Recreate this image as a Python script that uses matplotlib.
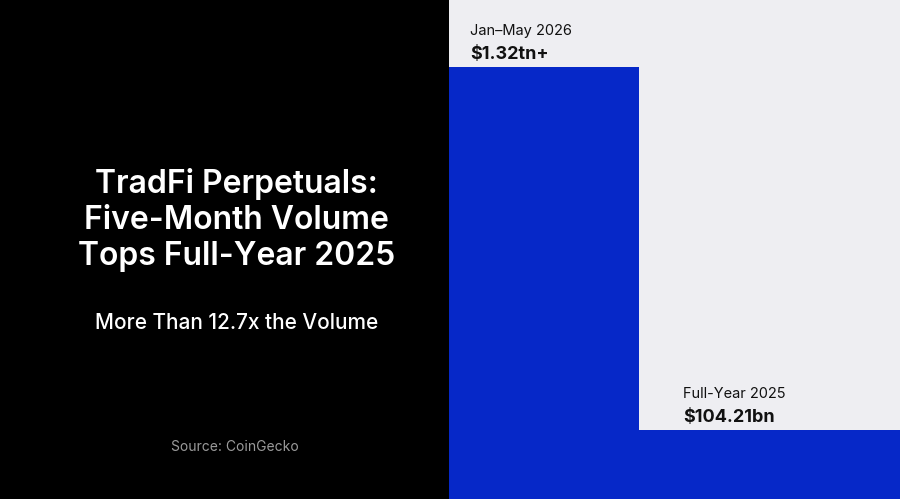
import matplotlib.pyplot as plt

# volume in $bn
periods = ["Jan–May 2026", "Full-Year 2025"]
volumes = [1320.0, 104.21]
value_labels = ["$1.32tn+", "$104.21bn"]

title = "TradFi Perpetuals:\nFive-Month Volume\nTops Full-Year 2025"
subtitle = "More Than 12.7x the Volume"
source = "Source: CoinGecko"

plt.rcParams['font.family'] = ['Inter', 'DejaVu Sans']

fig = plt.figure(figsize=(9, 4.99), dpi=100)
fig.patch.set_facecolor('black')

# left text panel
fig.text(0.263, 0.559, title, color='white', fontsize=23, fontweight='semibold',
         ha='center', va='center', linespacing=1.22)
fig.text(0.263, 0.352, subtitle, color='white', fontsize=15, fontweight='medium',
         ha='center', va='center')
fig.text(0.261, 0.104, source, color='#9a9a9a', fontsize=10,
         ha='center', va='center')

# right bar panel
ax = fig.add_axes([449 / 900, 0, 451 / 900, 1])
ax.set_facecolor('#eeeef2')
base = -127
lefts = [0, 190]
widths = [190, 261]
label_dx = [21, 44]
ax.bar(lefts, [v - base for v in volumes], bottom=base, width=widths,
       align='edge', color='#0628c8', linewidth=0)
ax.set_xlim(0, 451)
ax.set_ylim(base, 1544)
ax.set_xticks([])
ax.set_yticks([])
for s in ax.spines.values():
    s.set_visible(False)

for x, v, dx, period, lab in zip(lefts, volumes, label_dx, periods, value_labels):
    ax.annotate(period, (x, v), xytext=(dx, 32), textcoords='offset pixels',
                fontsize=10.5, color='#111111', va='baseline', ha='left')
    ax.annotate(lab, (x, v), xytext=(dx, 8), textcoords='offset pixels',
                fontsize=13, fontweight='bold', color='#111111', va='baseline', ha='left')

fig.savefig('out.png', dpi=100, facecolor=fig.get_facecolor())
